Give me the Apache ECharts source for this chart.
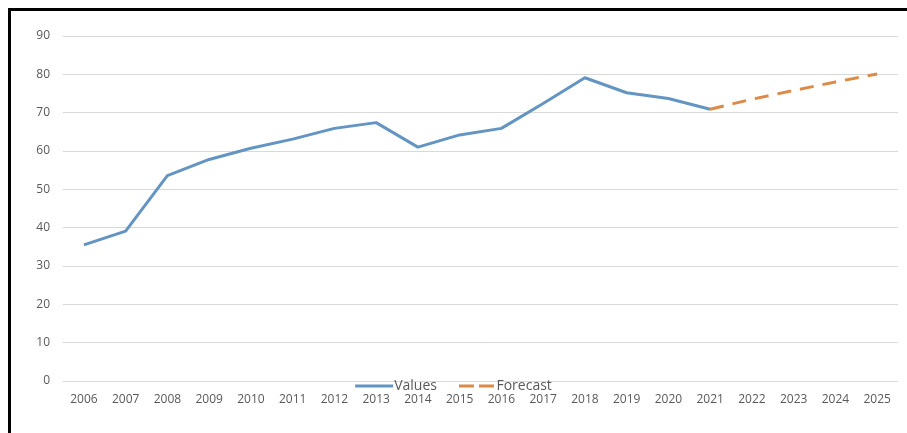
<!DOCTYPE html>
<html>
<head>
<meta charset="utf-8">
<script src="https://cdn.jsdelivr.net/npm/echarts@6/dist/echarts.min.js"></script>
<style>
html,body{margin:0;padding:0;background:#fff;}
#frame{position:absolute;left:8px;top:8px;width:899px;height:425px;border-left:3px solid #000;border-top:3px solid #000;box-sizing:border-box;}
#chart{position:absolute;left:0;top:0;width:907px;height:433px;}
</style>
</head>
<body>
<div id="frame"></div>
<div id="chart"></div>
<script>
const years = ['2006','2007','2008','2009','2010','2011','2012','2013','2014','2015','2016','2017','2018','2019','2020','2021','2022','2023','2024','2025'];
const values = [35.5,39.1,53.6,57.8,60.7,63.1,65.9,67.4,61.0,64.2,65.9,72.4,79.1,75.2,73.7,70.9,null,null,null,null];
const forecast = [null,null,null,null,null,null,null,null,null,null,null,null,null,null,null,70.9,73.5,75.8,78.0,80.1];

const chart = echarts.init(document.getElementById('chart'));
const txt = '#595959';
const font = 'Open Sans';
const blue = '#6495c2', orange = '#dc8a48';
chart.setOption({
  animation:false,
  grid:{left:63,right:9,top:36,bottom:52},
  legend:{
    data:[
      {name:'Values',icon:'rect',itemStyle:{color:blue}},
      {name:'Forecast',icon:'path://M0,0h15v3h-15z M20,0h15v3h-15z',itemStyle:{color:orange}}
    ],
    left:'center', top:374,
    itemWidth:38, itemHeight:3, itemGap:22,
    textStyle:{color:txt,fontFamily:font,fontSize:14,padding:[0,0,0,-4]}
  },
  xAxis:{
    type:'category', data:years, boundaryGap:true,
    axisLine:{show:false}, axisTick:{show:false},
    axisLabel:{color:txt,fontFamily:font,fontSize:12,margin:13}
  },
  yAxis:{
    type:'value', min:0, max:90, interval:10,
    axisLine:{show:false}, axisTick:{show:false},
    axisLabel:{color:txt,fontFamily:font,fontSize:12,margin:13},
    splitLine:{lineStyle:{color:'#d9d9d9',width:1}}
  },
  series:[
    {name:'Values',type:'line',data:values,symbol:'none',
     itemStyle:{color:blue},
     lineStyle:{color:blue,width:3}},
    {name:'Forecast',type:'line',data:forecast,symbol:'none',
     itemStyle:{color:orange},
     lineStyle:{color:orange,width:3,type:[14,9]}}
  ]
});
</script>
</body>
</html>
